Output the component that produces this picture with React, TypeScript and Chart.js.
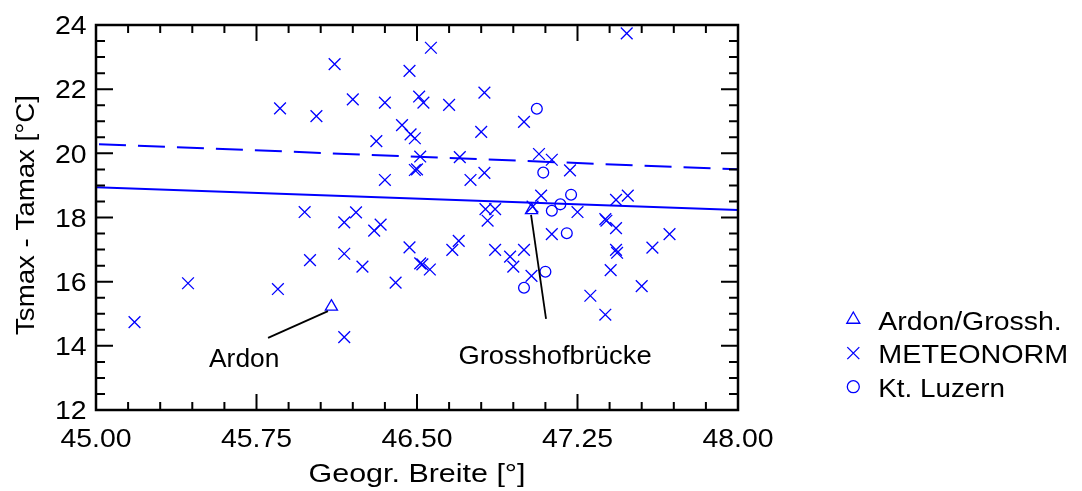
import React, { useEffect, useRef } from 'react';
import { Chart, registerables } from 'chart.js';

Chart.register(...registerables);

// ---- data ----
const meteonormX = [
  45.18, 45.43, 45.85, 45.86, 45.975, 46.0, 46.03, 46.115, 46.16, 46.16, 46.16, 46.2,
  46.215, 46.245, 46.3, 46.31, 46.33, 46.35, 46.35, 46.4, 46.43, 46.465, 46.465, 46.47,
  46.49, 46.49, 46.5, 46.51, 46.515, 46.515, 46.525, 46.53, 46.56, 46.565, 46.65, 46.665,
  46.695, 46.7, 46.75, 46.8, 46.815, 46.815, 46.82, 46.83, 46.865, 46.865, 46.935, 46.95,
  47.0, 47.0, 47.035, 47.04, 47.07, 47.08, 47.13, 47.13, 47.215, 47.25, 47.31, 47.38,
  47.385, 47.38, 47.405, 47.43, 47.43, 47.43, 47.435, 47.48, 47.485, 47.55, 47.6, 47.68,
];
const meteonormY = [
  14.74, 15.95, 15.77, 21.4, 18.17, 16.67, 21.16, 22.78, 17.85, 16.87, 14.27, 21.68,
  18.16, 16.47, 17.59, 20.38, 17.78, 21.58, 19.17, 15.97, 20.88, 22.57, 17.07, 20.59,
  20.47, 19.48, 19.5, 21.77, 19.9, 16.57, 16.54, 21.58, 16.38, 23.29, 21.51, 16.99,
  17.27, 19.88, 19.17, 20.67, 21.89, 19.39, 18.26, 17.9, 18.26, 16.99, 16.78, 16.47,
  20.98, 16.99, 16.18, 18.34, 19.98, 18.68, 19.8, 17.48, 19.47, 18.17, 15.56, 17.95,
  17.9, 14.97, 16.36, 18.55, 17.67, 16.99, 16.9, 23.74, 18.68, 15.86, 17.06, 17.48,
];
const luzernX = [47.06, 47.09, 47.13, 47.17, 47.22, 47.2, 47.1, 47.0];
const luzernY = [21.39, 19.4, 18.21, 18.41, 18.71, 17.51, 16.31, 15.81];
const ardonX = [46.1, 47.035];
const ardonY = [15.22, 18.23];
const fitX = [45, 48];
const fitSolidY = [18.94, 18.23];
const fitDashedY = [20.29, 19.5];

const xTickValues = [45, 45.75, 46.5, 47.25, 48];
const yTickValues = [12, 14, 16, 18, 20, 22, 24];
const xMinorStep = 0.15;
const yMinorStep = 0.5;

const legendLabels = ['Ardon/Grossh.', 'METEONORM', 'Kt. Luzern'];
const xTitle = 'Geogr. Breite [°]';
const yTitle = 'Tsmax - Tamax [°C]';

const annotationLabels = ['Ardon', 'Grosshofbrücke'];
const annotationFrom = [[46.084, 15.08], [47.033, 18.08]];
const annotationTo = [[45.804, 14.25], [47.103, 14.84]];
const annotationText = [[45.6925, 13.33], [47.145, 13.43]];

// ---- styles ----
const BLUE = '#0000ff';
const FONT = "'Liberation Sans', Arial, Helvetica, sans-serif";
const TICK_SIZE = 25.6;
const TICK_STRETCH = 1.11;
const legendWidths = [183.4, 190, 126.7];
const annotationWidths = [70.3, 193.3];

const toPts = (xs: number[], ys: number[]) => xs.map((x, i) => ({ x, y: ys[i] }));

function drawText(
  ctx: CanvasRenderingContext2D,
  text: string,
  x: number,
  y: number,
  size: number,
  align: CanvasTextAlign,
  opts: { stretch?: number; width?: number; rotate?: number } = {}
) {
  ctx.save();
  ctx.font = `${size}px ${FONT}`;
  const w = ctx.measureText(text).width;
  const sx = opts.width ? opts.width / w : opts.stretch ?? 1;
  ctx.translate(x, y);
  if (opts.rotate) ctx.rotate(opts.rotate);
  ctx.scale(sx, 1);
  ctx.textAlign = align;
  ctx.textBaseline = 'alphabetic';
  ctx.fillStyle = '#000';
  ctx.fillText(text, 0, 0);
  ctx.restore();
}

function drawMarker(ctx: CanvasRenderingContext2D, style: string, x: number, y: number) {
  ctx.save();
  ctx.strokeStyle = BLUE;
  ctx.lineWidth = 1.3;
  ctx.beginPath();
  if (style === 'triangle') {
    const r = 7.5;
    ctx.moveTo(x, y - r);
    ctx.lineTo(x + r * 0.866, y + r * 0.5);
    ctx.lineTo(x - r * 0.866, y + r * 0.5);
    ctx.closePath();
  } else if (style === 'crossRot') {
    const h = 6;
    ctx.moveTo(x - h, y - h);
    ctx.lineTo(x + h, y + h);
    ctx.moveTo(x - h, y + h);
    ctx.lineTo(x + h, y - h);
  } else {
    ctx.arc(x, y, 6, 0, Math.PI * 2);
  }
  ctx.stroke();
  ctx.restore();
}

const decorPlugin = {
  id: 'decor',
  afterDraw(chart: any) {
    const { ctx, chartArea, scales } = chart;
    const { left, right, top, bottom } = chartArea;
    const xs = scales.x;
    const ys = scales.y;
    ctx.save();
    ctx.strokeStyle = '#000';
    ctx.lineWidth = 2.5;
    ctx.strokeRect(left, top, right - left, bottom - top);
    ctx.lineWidth = 2;
    ctx.beginPath();
    const nx = Math.round((xs.max - xs.min) / xMinorStep);
    for (let i = 0; i <= nx; i++) {
      const px = xs.getPixelForValue(xs.min + i * xMinorStep);
      const len = i % 5 === 0 ? 16 : 8;
      ctx.moveTo(px, bottom);
      ctx.lineTo(px, bottom - len);
      ctx.moveTo(px, top);
      ctx.lineTo(px, top + len);
    }
    const ny = Math.round((ys.max - ys.min) / yMinorStep);
    for (let i = 0; i <= ny; i++) {
      const py = ys.getPixelForValue(ys.min + i * yMinorStep);
      const len = i % 4 === 0 ? 17 : 9;
      ctx.moveTo(left, py);
      ctx.lineTo(left + len, py);
      ctx.moveTo(right, py);
      ctx.lineTo(right - len, py);
    }
    ctx.stroke();

    // tick labels
    xs.ticks.forEach((t: any) => {
      drawText(ctx, Number(t.value).toFixed(2), xs.getPixelForValue(t.value), bottom + 36.7, TICK_SIZE, 'center', { stretch: TICK_STRETCH });
    });
    ys.ticks.forEach((t: any) => {
      drawText(ctx, String(t.value), left - 9.5, ys.getPixelForValue(t.value) + 9.2, TICK_SIZE, 'right', { stretch: TICK_STRETCH });
    });

    // axis titles
    drawText(ctx, xTitle, (left + right) / 2, bottom + 71.7, 25.7, 'center', { width: 217 });
    drawText(ctx, yTitle, 33.5, (top + bottom) / 2 - 2.5, 25.8, 'center', { width: 240, rotate: -Math.PI / 2 });

    // annotations
    ctx.lineWidth = 1.8;
    annotationLabels.forEach((label, i) => {
      ctx.beginPath();
      ctx.moveTo(xs.getPixelForValue(annotationFrom[i][0]), ys.getPixelForValue(annotationFrom[i][1]));
      ctx.lineTo(xs.getPixelForValue(annotationTo[i][0]), ys.getPixelForValue(annotationTo[i][1]));
      ctx.stroke();
      drawText(ctx, label, xs.getPixelForValue(annotationText[i][0]), ys.getPixelForValue(annotationText[i][1]), 26.5, 'center', { width: annotationWidths[i] });
    });

    // legend
    const styles = ['triangle', 'crossRot', 'circle'];
    legendLabels.forEach((label, i) => {
      const base = 329.5 + i * 33.6;
      drawMarker(ctx, styles[i], 853.3, base - 10);
      drawText(ctx, label, 878.3, base, 26.5, 'left', { width: legendWidths[i] });
    });
    ctx.restore();
  },
};

export default function App() {
  const ref = useRef<HTMLCanvasElement | null>(null);
  useEffect(() => {
    document.body.style.margin = '0';
    const canvas = ref.current;
    if (!canvas) return;
    const chart = new Chart(canvas, {
      type: 'scatter',
      data: {
        datasets: [
          {
            type: 'line',
            label: 'fit solid',
            data: toPts(fitX, fitSolidY),
            borderColor: BLUE,
            borderWidth: 2,
            pointRadius: 0,
            fill: false,
          },
          {
            type: 'line',
            label: 'fit dashed',
            data: toPts(fitX, fitDashedY),
            borderColor: BLUE,
            borderWidth: 2,
            borderDash: [27, 12],
            borderDashOffset: -3,
            pointRadius: 0,
            fill: false,
          },
          {
            label: legendLabels[0],
            data: toPts(ardonX, ardonY),
            pointStyle: 'triangle',
            pointRadius: 7,
            borderColor: BLUE,
            backgroundColor: 'rgba(0,0,0,0)',
            borderWidth: 1.3,
          },
          {
            label: legendLabels[1],
            data: toPts(meteonormX, meteonormY),
            pointStyle: 'crossRot',
            pointRadius: 8.3,
            borderColor: BLUE,
            backgroundColor: 'rgba(0,0,0,0)',
            borderWidth: 1.3,
          },
          {
            label: legendLabels[2],
            data: toPts(luzernX, luzernY),
            pointStyle: 'circle',
            pointRadius: 5.4,
            borderColor: BLUE,
            backgroundColor: 'rgba(0,0,0,0)',
            borderWidth: 1.3,
          },
        ],
      },
      options: {
        animation: false,
        responsive: true,
        maintainAspectRatio: false,
        layout: { padding: { left: 0, top: 25, right: 344, bottom: 0 }, autoPadding: false },
        plugins: { legend: { display: false }, tooltip: { enabled: false } },
        scales: {
          x: {
            type: 'linear',
            min: 45,
            max: 48,
            grid: { display: false, drawTicks: false },
            border: { display: false },
            afterBuildTicks: (s: any) => {
              s.ticks = xTickValues.map((v) => ({ value: v }));
            },
            afterFit: (s: any) => {
              s.height = 81;
            },
            ticks: { display: false },
            title: { display: false, text: xTitle },
          },
          y: {
            type: 'linear',
            min: 12,
            max: 24,
            grid: { display: false, drawTicks: false },
            border: { display: false },
            afterBuildTicks: (s: any) => {
              s.ticks = yTickValues.map((v) => ({ value: v }));
            },
            afterFit: (s: any) => {
              s.width = 96;
            },
            ticks: { display: false },
            title: { display: false, text: yTitle },
          },
        },
      },
      plugins: [decorPlugin],
    } as any);
    return () => chart.destroy();
  }, []);
  return (
    <div style={{ position: 'fixed', left: 0, top: 0, width: 1082, height: 491, background: '#fff' }}>
      <canvas ref={ref} />
    </div>
  );
}
